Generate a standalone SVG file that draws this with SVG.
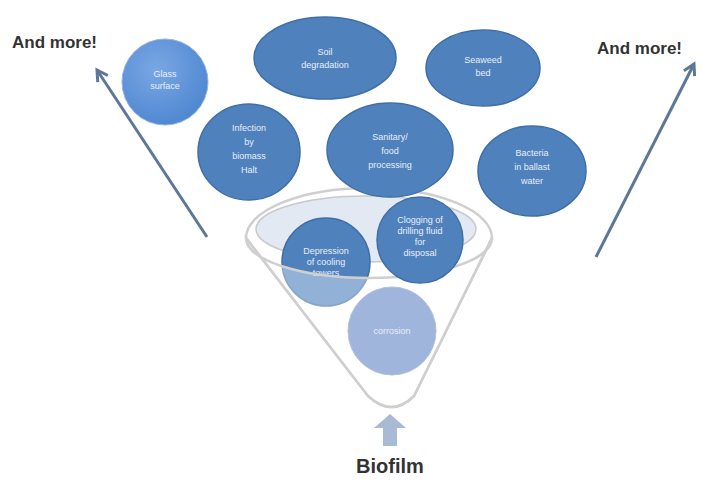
<svg xmlns="http://www.w3.org/2000/svg" width="702" height="481" viewBox="0 0 702 481">
<defs>
<style>
.node{fill:#4f81bd;stroke:#3f6fa8;stroke-width:1.5}
.lbl{font-family:"Liberation Sans",Arial,sans-serif;font-size:9px;fill:#e8eef8;text-anchor:middle}
.big{font-family:"Liberation Sans",Arial,sans-serif;font-weight:bold;fill:#333;}
.arr{stroke:#5d7896;stroke-width:3;fill:none}
</style>
<radialGradient id="g1" cx="0.4" cy="0.35" r="0.7">
<stop offset="0" stop-color="#7aa7e4"/><stop offset="1" stop-color="#4d86d0"/>
</radialGradient>
<marker id="ah" viewBox="0 0 10 10" refX="8" refY="5" markerWidth="5" markerHeight="5" orient="auto">
<path d="M1,1 L8,5 L1,9" fill="none" stroke="#5d7896" stroke-width="2"/>
</marker>
</defs>
<rect width="702" height="481" fill="#fff"/>

<g id="connectors">
<line class="arr" x1="207" y1="237" x2="97" y2="70" marker-end="url(#ah)"/>
<line class="arr" x1="596" y1="257" x2="694" y2="64" marker-end="url(#ah)"/>
<path d="M390,414 L406,428 L397,428 L397,446 L383,446 L383,428 L374,428 Z" fill="#a9bad4"/>
</g>

<g id="funnel-back">
<path d="M246,238 A123 50 0 0 1 492,238 L414,396 Q392,418 368,396 Z" fill="#fff" stroke="#cfcfcf" stroke-width="2.5"/>
<ellipse cx="366" cy="229" rx="110" ry="33" fill="#e3e9f2" stroke="#c9c9c9" stroke-width="1.5"/>
</g>

<g id="n-left"><text class="big" x="12" y="48" font-size="17">And more!</text></g>
<g id="n-right"><text class="big" x="597" y="54" font-size="17">And more!</text></g>

<g id="n-glass"><circle cx="165" cy="82" r="43" fill="url(#g1)" stroke="#8fb4e6" stroke-width="1"/>
<text class="lbl" x="165" y="77">Glass</text><text class="lbl" x="165" y="89">surface</text></g>

<g id="n-soil"><ellipse class="node" cx="325" cy="58" rx="71" ry="41"/>
<text class="lbl" x="325" y="55">Soil</text><text class="lbl" x="325" y="68">degradation</text></g>

<g id="n-seaweed"><ellipse class="node" cx="483" cy="68" rx="57" ry="38"/>
<text class="lbl" x="483" y="63">Seaweed</text><text class="lbl" x="483" y="76">bed</text></g>

<g id="n-infection"><ellipse class="node" cx="249" cy="152" rx="51" ry="48"/>
<text class="lbl" x="249" y="131">Infection</text><text class="lbl" x="249" y="145">by</text><text class="lbl" x="249" y="159">biomass</text><text class="lbl" x="249" y="173">Halt</text></g>

<g id="n-sanitary"><ellipse class="node" cx="390" cy="150" rx="63" ry="47"/>
<text class="lbl" x="390" y="140">Sanitary/</text><text class="lbl" x="390" y="154">food</text><text class="lbl" x="390" y="168">processing</text></g>

<g id="n-bacteria"><ellipse class="node" cx="532" cy="171" rx="54" ry="45"/>
<text class="lbl" x="532" y="156">Bacteria</text><text class="lbl" x="532" y="170">in ballast</text><text class="lbl" x="532" y="184">water</text></g>

<g id="n-depression"><circle class="node" cx="326" cy="262" r="44"/>
<text class="lbl" x="326" y="254" font-size="8">Depression</text><text class="lbl" x="326" y="265" font-size="8">of cooling</text><text class="lbl" x="326" y="276" font-size="8">towers</text></g>

<g id="funnel-front">
<path d="M246,238 A123 40 0 0 0 492,238 L414,396 Q392,418 368,396 Z" fill="#ffffff" fill-opacity="0.38" stroke="#cfcfcf" stroke-width="2.5"/>
</g>

<g id="n-clogging"><circle class="node" cx="420" cy="240" r="43"/>
<text class="lbl" x="420" y="223" font-size="8">Clogging of</text><text class="lbl" x="420" y="234" font-size="8">drilling fluid</text><text class="lbl" x="420" y="245" font-size="8">for</text><text class="lbl" x="420" y="256" font-size="8">disposal</text></g>

<g id="n-corrosion"><circle cx="392" cy="331" r="44" fill="#9fb5dc" stroke="#aec0df" stroke-width="1"/>
<text class="lbl" x="392" y="334" font-size="8">corrosion</text></g>

<g id="n-biofilm"><text class="big" x="390" y="473" font-size="20" text-anchor="middle">Biofilm</text></g>
</svg>
